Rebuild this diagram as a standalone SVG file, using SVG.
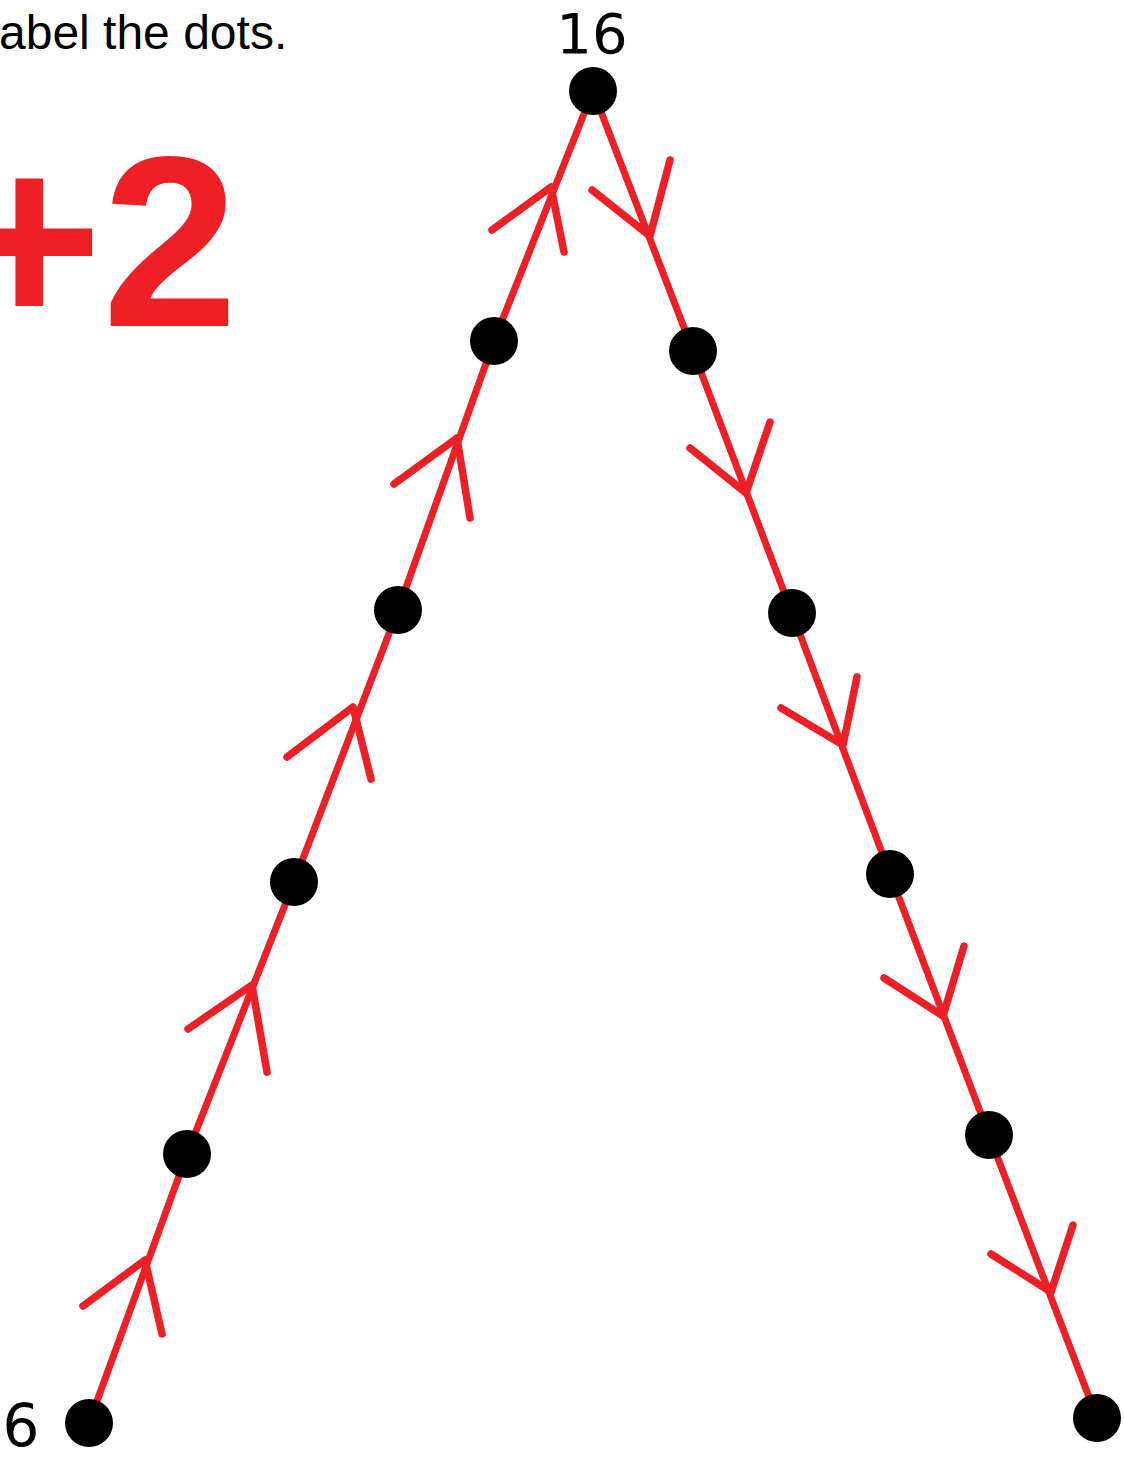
<svg xmlns="http://www.w3.org/2000/svg" width="1124" height="1458" viewBox="0 0 1124 1458">
<style>
.ln{stroke:#ee1f25;stroke-width:7;fill:none;stroke-linecap:round;stroke-linejoin:round}
.ar{stroke:#ee1f25;stroke-width:7.5;fill:none;stroke-linecap:round;stroke-linejoin:round}
.dot{fill:#000}
.num{font-family:"DejaVu Sans","Liberation Sans",sans-serif;fill:#000}
</style>
<rect width="1124" height="1458" fill="#fff"/>
<text x="-1" y="49" font-family="Liberation Sans, Arial, sans-serif" font-size="48" fill="#000">abel the dots.</text>
<text x="238" y="326" text-anchor="end" font-family="Liberation Sans, Arial, sans-serif" font-weight="bold" fill="#ee1f25"><tspan font-size="250">+</tspan><tspan font-size="244">2</tspan></text>
<g id="connectors">
<polyline class="ln" points="89,1423 187,1154 294,882 398,610 494,341 593,91"/>
<polyline class="ln" points="593,91 693,351 792,613 890,874 989,1135 1097,1418"/>
<polyline class="ar" points="492,230 551,187 564,252"/>
<polyline class="ar" points="394,484 457,438 470,518"/>
<polyline class="ar" points="287,757 353,707 371,779"/>
<polyline class="ar" points="188,1029 252,985 267,1072"/>
<polyline class="ar" points="83,1306 145,1260 162,1334"/>
<polyline class="ar" points="592,190 650,236 670,160"/>
<polyline class="ar" points="690,448 746,493 770,422"/>
<polyline class="ar" points="781,708 843,745 857,677"/>
<polyline class="ar" points="884,978 943,1016 964,946"/>
<polyline class="ar" points="991,1254 1051,1292 1073,1225"/>
</g>
<g id="n-top"><circle class="dot" cx="593" cy="91" r="24"/><text class="num" x="592" y="53" font-size="56" text-anchor="middle">16</text></g>
<g id="n-l1"><circle class="dot" cx="494" cy="341" r="24"/></g>
<g id="n-l2"><circle class="dot" cx="398" cy="610" r="24"/></g>
<g id="n-l3"><circle class="dot" cx="294" cy="882" r="24"/></g>
<g id="n-l4"><circle class="dot" cx="187" cy="1154" r="24"/></g>
<g id="n-l5"><circle class="dot" cx="89" cy="1423" r="24"/><text class="num" x="21" y="1446" font-size="58" text-anchor="middle">6</text></g>
<g id="n-r1"><circle class="dot" cx="693" cy="351" r="24"/></g>
<g id="n-r2"><circle class="dot" cx="792" cy="613" r="24"/></g>
<g id="n-r3"><circle class="dot" cx="890" cy="874" r="24"/></g>
<g id="n-r4"><circle class="dot" cx="989" cy="1135" r="24"/></g>
<g id="n-r5"><circle class="dot" cx="1097" cy="1418" r="24"/></g>
</svg>
